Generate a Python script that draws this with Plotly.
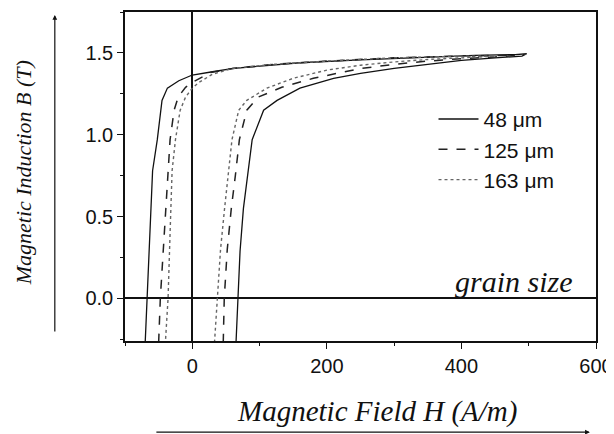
import plotly.graph_objects as go

# ---- data ----
grain_labels = ["48 μm", "125 μm", "163 μm"]

# ascending (right) branches
h_up_48 = [65, 68, 71, 76, 81, 89, 106, 126, 160, 210, 250, 300, 350, 400, 450, 490, 497]
b_up_48 = [-0.27, 0.0, 0.29, 0.55, 0.72, 0.97, 1.15, 1.21, 1.285, 1.345, 1.375, 1.405, 1.43, 1.455, 1.47, 1.48, 1.495]
# descending (upper-left) branches
h_dn_48 = [497, 480, 420, 350, 300, 250, 160, 100, 61, 30, 0, -20, -37, -45, -52, -59, -63, -67, -70]
b_dn_48 = [1.495, 1.49, 1.485, 1.475, 1.465, 1.457, 1.44, 1.42, 1.405, 1.385, 1.365, 1.33, 1.285, 1.21, 0.97, 0.78, 0.4, 0.0, -0.27]

h_up_125 = [46, 47.5, 52, 58, 64, 70, 81, 98, 133, 180, 250, 300, 350, 400, 450, 480]
b_up_125 = [-0.27, 0.0, 0.3, 0.55, 0.75, 0.97, 1.15, 1.23, 1.29, 1.345, 1.405, 1.43, 1.45, 1.465, 1.475, 1.485]
h_dn_125 = [480, 400, 300, 200, 120, 60, 27, 0, -10, -21, -27, -33, -36, -40, -44, -47.5, -50]
b_dn_125 = [1.485, 1.482, 1.47, 1.45, 1.43, 1.405, 1.38, 1.32, 1.29, 1.23, 1.15, 0.97, 0.78, 0.5, 0.25, 0.0, -0.27]

h_up_163 = [33, 37, 42, 48, 54, 59, 69, 81, 111, 150, 200, 250, 300, 350, 400, 450]
b_up_163 = [-0.27, 0.0, 0.3, 0.55, 0.78, 0.97, 1.15, 1.21, 1.285, 1.345, 1.395, 1.425, 1.445, 1.46, 1.47, 1.48]
h_dn_163 = [450, 400, 300, 200, 120, 60, 30, 10, 0, -10, -18, -25, -30, -33, -36, -40]
b_dn_163 = [1.48, 1.48, 1.47, 1.45, 1.43, 1.405, 1.37, 1.32, 1.285, 1.23, 1.15, 0.97, 0.78, 0.4, 0.0, -0.27]

x_ticks = [0, 200, 400, 600]
y_ticks = [0.0, 0.5, 1.0, 1.5]
y_tick_text = ["0.0", "0.5", "1.0", "1.5"]

# ---- figure ----
series = [
    (h_up_48 + h_dn_48, b_up_48 + b_dn_48, "solid", "#111111", 1.3),
    (h_up_125 + h_dn_125, b_up_125 + b_dn_125, "dash", "#222222", 1.5),
    (h_up_163 + h_dn_163, b_up_163 + b_dn_163, "dot", "#666666", 1.4),
]

fig = go.Figure()
for (hx, by, dash, col, w), name in zip(series, grain_labels):
    fig.add_trace(go.Scatter(x=hx, y=by, mode="lines", name=name,
                             line=dict(color=col, width=w, dash=dash)))

tick_font = dict(family="Liberation Sans, Arial, sans-serif", size=20, color="#111")
serif = "Liberation Serif, Times New Roman, serif"

# the page adds an 8px body margin, so the figure is 8px smaller and margins are shifted
fig.update_layout(
    width=606, height=426,
    margin=dict(l=117, r=18, t=4, b=93, autoexpand=False),
    paper_bgcolor="white", plot_bgcolor="white",
    showlegend=True,
    legend=dict(x=0.655, y=0.736, xanchor="left", yanchor="top",
                bgcolor="rgba(0,0,0,0)", font=dict(family="Liberation Sans, Arial, sans-serif", size=21, color="#111"),
                itemwidth=40, tracegroupgap=0),
    xaxis=dict(range=[-100, 600], tickvals=x_ticks, ticks="outside", ticklen=6, tickwidth=1.3,
               tickcolor="#111", showgrid=False, showline=True, linecolor="#111", linewidth=1.5,
               mirror=True, zeroline=True, zerolinecolor="#111", zerolinewidth=1.5,
               tickfont=tick_font, automargin=False,
               minor=dict(dtick=100, tick0=0, ticks="outside", ticklen=3, tickcolor="#111", showgrid=False)),
    yaxis=dict(range=[-0.26, 1.75], tickvals=y_ticks, ticktext=y_tick_text, ticks="outside", ticklen=6,
               tickwidth=1.3, tickcolor="#111", showgrid=False, showline=True, linecolor="#111",
               linewidth=1.5, mirror=True, zeroline=True, zerolinecolor="#111", zerolinewidth=1.5,
               tickfont=tick_font, automargin=False,
               minor=dict(dtick=0.25, tick0=0, ticks="outside", ticklen=3, tickcolor="#111", showgrid=False)),
)

# in-plot label
fig.add_annotation(x=0.955, y=0.18, xref="paper", yref="paper", xanchor="right", yanchor="middle",
                   text="<i>grain size</i>", showarrow=False,
                   font=dict(family=serif, size=30, color="#111"))

# axis titles
fig.add_annotation(x=0.535, y=-0.215, xref="paper", yref="paper", xanchor="center", yanchor="middle",
                   text="<i>Magnetic Field H (A/m)</i>", showarrow=False,
                   font=dict(family=serif, size=29, color="#111"))
fig.add_annotation(x=-0.215, y=0.512, xref="paper", yref="paper", xanchor="center", yanchor="middle",
                   text="<i>Magnetic Induction B (T)</i>", textangle=-90, showarrow=False,
                   font=dict(family=serif, size=22, color="#111"))

# arrows along the axis titles
fig.add_annotation(x=0.987, y=-0.277, xref="paper", yref="paper", ax=-435, ay=0,
                   axref="pixel", ayref="pixel", text="", showarrow=True,
                   arrowhead=2, arrowsize=0.8, arrowwidth=1.2, arrowcolor="#111")
fig.add_annotation(x=-0.149, y=0.991, xref="paper", yref="paper", ax=0, ay=318,
                   axref="pixel", ayref="pixel", text="", showarrow=True,
                   arrowhead=2, arrowsize=0.8, arrowwidth=1.2, arrowcolor="#111")

fig.write_html("out.html")
